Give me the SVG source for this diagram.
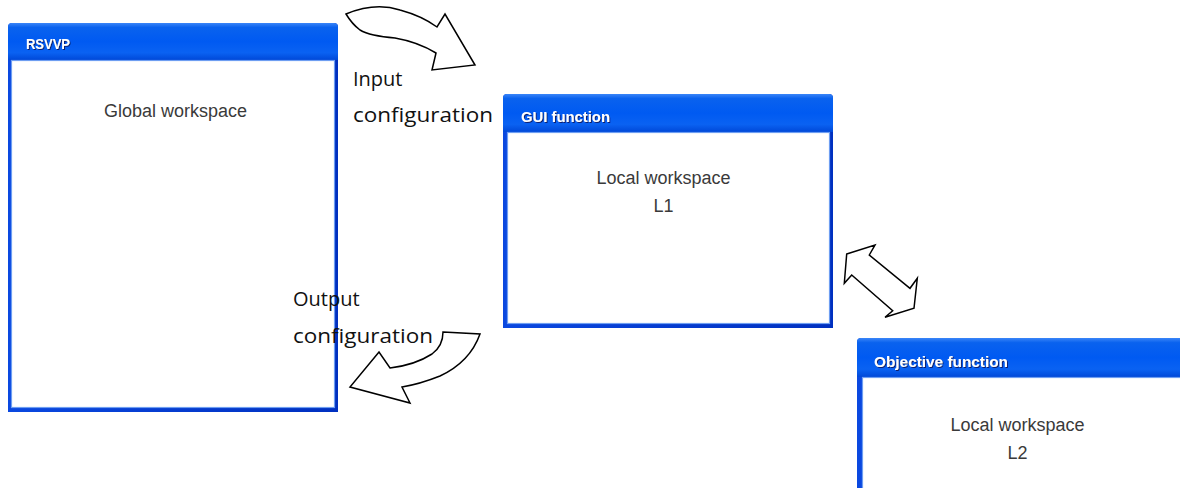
<svg xmlns="http://www.w3.org/2000/svg" width="1180" height="488" viewBox="0 0 1180 488">
<defs>
<linearGradient id="tb" x1="0" y1="0" x2="0" y2="1">
<stop offset="0" stop-color="#3a85f8"/>
<stop offset="0.12" stop-color="#0a62ee"/>
<stop offset="0.5" stop-color="#005af2"/>
<stop offset="0.8" stop-color="#0a62f2"/>
<stop offset="1" stop-color="#0048d8"/>
</linearGradient>
<linearGradient id="fr" x1="0" y1="0" x2="1" y2="0">
<stop offset="0" stop-color="#0a48e0"/>
<stop offset="1" stop-color="#0030c0"/>
</linearGradient>
<filter id="sh" x="-10%" y="-30%" width="130%" height="170%">
<feDropShadow dx="1" dy="1" stdDeviation="0.3" flood-color="#0a1860" flood-opacity="0.9"/>
</filter>
</defs>
<style>
.frame{fill:url(#fr)}
.bar{fill:url(#tb)}
.body{fill:#ffffff;stroke:#6e9ef2;stroke-width:1.2}
.title{font-family:"Liberation Sans",Arial,sans-serif;font-weight:bold;font-size:15px;fill:#ffffff;filter:url(#sh)}
.ws{font-family:"Liberation Sans",Arial,sans-serif;font-size:18px;fill:#3a3a3a;text-anchor:middle}
.lbl{font-family:"Open Sans","Liberation Sans",sans-serif;font-size:20px;fill:#111111}
.arr{fill:#ffffff;stroke:#000000;stroke-width:1.5;stroke-linejoin:miter}
</style>

<g id="rsvvp">
<path class="frame" d="M8,27 Q8,23 12,23 L334,23 Q338,23 338,27 L338,412 L8,412 Z"/>
<path class="bar" d="M8,27 Q8,23 12,23 L334,23 Q338,23 338,27 L338,60 L8,60 Z"/>
<rect class="body" x="11.5" y="60.5" width="323" height="347"/>
<text class="title" x="26" y="49" textLength="44" lengthAdjust="spacingAndGlyphs">RSVVP</text>
<text class="ws" x="175.5" y="117">Global workspace</text>
</g>

<g id="gui">
<path class="frame" d="M503,98 Q503,94 507,94 L829,94 Q833,94 833,98 L833,328 L503,328 Z"/>
<path class="bar" d="M503,98 Q503,94 507,94 L829,94 Q833,94 833,98 L833,132 L503,132 Z"/>
<rect class="body" x="507.5" y="132.5" width="322" height="191"/>
<text class="title" x="521" y="122" textLength="89" lengthAdjust="spacingAndGlyphs">GUI function</text>
<text class="ws" x="663.5" y="184">Local workspace</text>
<text class="ws" x="663.5" y="212">L1</text>
</g>

<g id="objective">
<path class="frame" d="M857,342 Q857,338 861,338 L1180,338 L1180,488 L857,488 Z"/>
<path class="bar" d="M857,342 Q857,338 861,338 L1180,338 L1180,377 L857,377 Z"/>
<rect class="body" x="862.5" y="377.5" width="330" height="120"/>
<text class="title" x="874" y="367" textLength="134" lengthAdjust="spacingAndGlyphs">Objective function</text>
<text class="ws" x="1017.5" y="431">Local workspace</text>
<text class="ws" x="1017.5" y="459">L2</text>
</g>

<g id="connectors">
<path class="arr" d="M346,14 Q375,2 400,10 Q422,16 437,27 L445,14 L475,65 L432,70 L436,53 Q418,42 395,38 Q370,36 360,30 Q352,24 346,14 Z"/>
<path class="arr" d="M443,332 L480,334 Q470,362 440,376 Q420,384 402,387 L410,403 L350,387 L379,352 L390,368 Q415,365 432,354 Q443,346 443,332 Z"/>
<path class="arr" d="M846.7,254 L875,245 L869.3,255 L910,288.3 L917.3,278.3 L914,308.3 L885,317.3 L892.7,310.7 L851.7,275 L844.3,283.3 Z"/>
</g>

<g id="labels">
<text class="lbl" x="353" y="86">Input</text>
<text class="lbl" x="353" y="122" textLength="140" lengthAdjust="spacingAndGlyphs">configuration</text>
<text class="lbl" x="293" y="306">Output</text>
<text class="lbl" x="293" y="343" textLength="140" lengthAdjust="spacingAndGlyphs">configuration</text>
</g>
</svg>
